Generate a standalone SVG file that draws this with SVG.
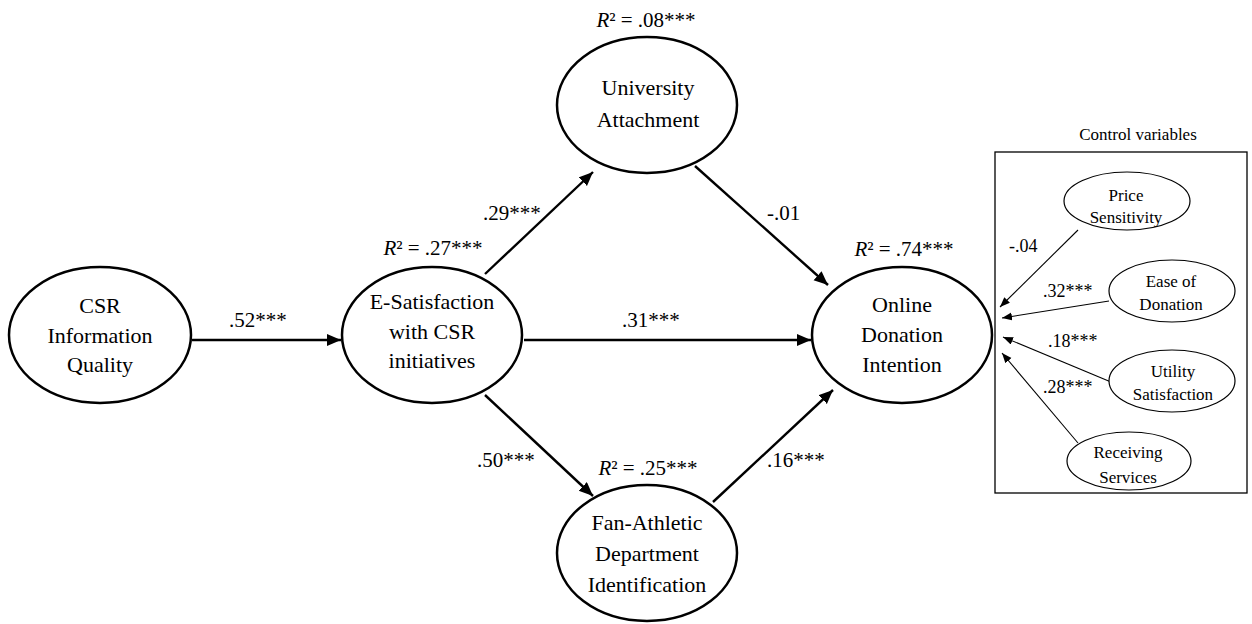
<svg xmlns="http://www.w3.org/2000/svg" width="1252" height="624" viewBox="0 0 1252 624">
<style>
text{font-family:"Liberation Serif","Times New Roman",serif;fill:#000}
.n{font-size:22px;text-anchor:middle}
.l{font-size:21px}
.r{font-size:21px;text-anchor:middle}
.s{font-size:17px;text-anchor:middle}
.sl{font-size:18px}
.big{fill:#fff;stroke:#000;stroke-width:2.5}
.sm{fill:#fff;stroke:#000;stroke-width:1.2}
.a{stroke:#000;stroke-width:2.4;fill:none;marker-end:url(#ah)}
.t{stroke:#000;stroke-width:1.1;fill:none;marker-end:url(#as)}
</style>
<defs>
<marker id="ah" markerUnits="userSpaceOnUse" markerWidth="15" markerHeight="13" refX="14" refY="6" orient="auto"><path d="M0,0 L14,6 L0,12 z" fill="#000"/></marker>
<marker id="as" markerUnits="userSpaceOnUse" markerWidth="11" markerHeight="9" refX="10" refY="4" orient="auto"><path d="M0,0 L10,4 L0,8 z" fill="#000"/></marker>
</defs>
<rect width="1252" height="624" fill="#fff"/>
<g id="connectors">
<line class="a" x1="192" y1="340" x2="341" y2="340"/>
<line class="a" x1="524" y1="340" x2="811" y2="340"/>
<line class="a" x1="485" y1="274" x2="593" y2="172"/>
<line class="a" x1="695" y1="166" x2="828" y2="285"/>
<line class="a" x1="485" y1="395" x2="593" y2="496"/>
<line class="a" x1="713" y1="502" x2="833" y2="390"/>
<line class="t" x1="1078" y1="230" x2="1000" y2="307"/>
<line class="t" x1="1109" y1="301" x2="1002" y2="318"/>
<line class="t" x1="1111" y1="382" x2="1003" y2="337"/>
<line class="t" x1="1078" y1="443" x2="1002" y2="353"/>
<text class="l" x="229" y="327">.52***</text>
<text class="l" x="622" y="327">.31***</text>
<text class="l" x="483" y="220">.29***</text>
<text class="l" x="767" y="220">-.01</text>
<text class="l" x="477" y="467">.50***</text>
<text class="l" x="767" y="467">.16***</text>
<text class="sl" x="1009" y="252">-.04</text>
<text class="sl" x="1043" y="297">.32***</text>
<text class="sl" x="1048" y="347">.18***</text>
<text class="sl" x="1043" y="393">.28***</text>
</g>
<g id="csr">
<ellipse class="big" cx="100" cy="335" rx="91" ry="68"/>
<text class="n" x="100" y="313">CSR</text>
<text class="n" x="100" y="343">Information</text>
<text class="n" x="100" y="372">Quality</text>
</g>
<g id="esat">
<text class="r" x="433" y="255"><tspan font-style="italic">R</tspan>² = .27***</text>
<ellipse class="big" cx="432" cy="335" rx="90" ry="68"/>
<text class="n" x="432" y="309">E-Satisfaction</text>
<text class="n" x="432" y="339">with CSR</text>
<text class="n" x="432" y="368">initiatives</text>
</g>
<g id="univ">
<text class="r" x="646" y="27"><tspan font-style="italic">R</tspan>² = .08***</text>
<ellipse class="big" cx="647" cy="105" rx="90" ry="68"/>
<text class="n" x="648" y="95">University</text>
<text class="n" x="648" y="127">Attachment</text>
</g>
<g id="online">
<text class="r" x="904" y="256"><tspan font-style="italic">R</tspan>² = .74***</text>
<ellipse class="big" cx="902" cy="335" rx="90" ry="68"/>
<text class="n" x="902" y="312">Online</text>
<text class="n" x="902" y="342">Donation</text>
<text class="n" x="902" y="372">Intention</text>
</g>
<g id="fan">
<text class="r" x="648" y="475"><tspan font-style="italic">R</tspan>² = .25***</text>
<ellipse class="big" cx="647" cy="553" rx="90" ry="68"/>
<text class="n" x="647" y="530">Fan-Athletic</text>
<text class="n" x="647" y="561">Department</text>
<text class="n" x="647" y="592">Identification</text>
</g>
<g id="controls">
<text class="s" x="1138" y="140">Control variables</text>
<rect x="995" y="152" width="252" height="341" fill="none" stroke="#000" stroke-width="1.3"/>
</g>
<g id="price">
<ellipse class="sm" cx="1127" cy="201" rx="63" ry="29"/>
<text class="s" x="1126" y="201">Price</text>
<text class="s" x="1126" y="223">Sensitivity</text>
</g>
<g id="ease">
<ellipse class="sm" cx="1172" cy="291" rx="63" ry="31"/>
<text class="s" x="1171" y="287">Ease of</text>
<text class="s" x="1171" y="310">Donation</text>
</g>
<g id="utility">
<ellipse class="sm" cx="1172" cy="381" rx="63" ry="31"/>
<text class="s" x="1173" y="377">Utility</text>
<text class="s" x="1173" y="400">Satisfaction</text>
</g>
<g id="receiving">
<ellipse class="sm" cx="1129" cy="461" rx="62" ry="29"/>
<text class="s" x="1128" y="458">Receiving</text>
<text class="s" x="1128" y="483">Services</text>
</g>
</svg>
